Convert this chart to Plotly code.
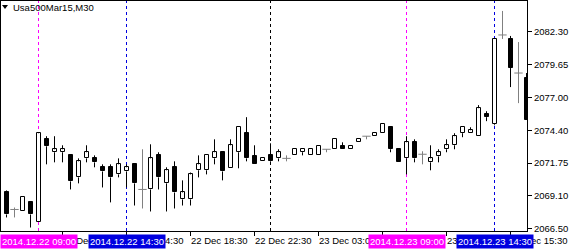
import plotly.graph_objects as go

# ---- data ----
open_ = [
    2069.40, 2068.03, 2067.87, 2068.60, 2067.06, 2073.67, 2072.63, 2072.63, 2072.38, 2070.61,
    2072.14, 2072.14, 2071.42, 2071.42, 2070.85, 2071.09, 2071.66, 2069.64, 2069.64, 2072.38,
    2070.13, 2071.42, 2068.84, 2068.84, 2071.18, 2071.18, 2072.14, 2072.63, 2071.34, 2072.63,
    2074.16, 2072.30, 2071.90, 2072.38, 2072.14, 2072.14, 2072.38, 2072.63, 2072.38, 2072.38,
    2072.87, 2072.87, 2073.11, 2072.87, 2073.43, 2073.92, 2073.92, 2074.16, 2074.64, 2072.87,
    2072.14, 2073.43, 2072.47, 2071.82, 2072.30, 2072.87, 2073.19, 2074.16, 2074.16, 2073.92,
    2075.69, 2074.88, 2082.06, 2081.74, 2079.00, 2078.59]
high = [
    2069.56, 2068.19, 2069.00, 2068.60, 2074.24, 2073.92, 2073.92, 2073.19, 2072.38, 2072.14,
    2073.19, 2072.38, 2071.66, 2071.66, 2072.14, 2071.66, 2071.66, 2072.87, 2073.27, 2072.63,
    2071.42, 2071.90, 2070.37, 2071.00, 2072.38, 2072.38, 2073.67, 2072.63, 2073.67, 2074.64,
    2075.45, 2073.19, 2072.14, 2073.35, 2072.87, 2072.38, 2072.87, 2072.87, 2072.87, 2073.11,
    2072.87, 2073.67, 2073.43, 2073.11, 2073.67, 2073.92, 2074.16, 2074.88, 2074.64, 2072.87,
    2073.92, 2073.67, 2072.71, 2073.19, 2072.87, 2073.67, 2074.16, 2074.64, 2074.64, 2076.42,
    2075.93, 2081.74, 2083.99, 2081.98, 2081.49, 2079.00]
low = [
    2067.39, 2067.39, 2067.87, 2066.58, 2067.06, 2071.66, 2071.82, 2071.82, 2069.64, 2070.13,
    2071.82, 2071.42, 2069.80, 2068.60, 2070.61, 2069.80, 2068.35, 2068.11, 2067.87, 2069.64,
    2067.87, 2068.11, 2068.35, 2068.35, 2070.61, 2070.85, 2071.66, 2070.37, 2071.34, 2071.34,
    2071.90, 2071.66, 2071.90, 2071.66, 2071.90, 2071.90, 2072.38, 2072.38, 2072.38, 2072.38,
    2072.63, 2072.87, 2072.87, 2072.87, 2073.43, 2073.67, 2073.92, 2074.16, 2072.63, 2071.82,
    2070.85, 2071.82, 2071.66, 2071.18, 2071.82, 2072.63, 2072.87, 2073.84, 2074.16, 2073.92,
    2075.13, 2074.80, 2081.74, 2077.87, 2076.58, 2075.21]
close = [
    2067.63, 2068.03, 2069.00, 2067.63, 2074.16, 2073.11, 2072.87, 2072.87, 2070.29, 2071.90,
    2072.63, 2071.82, 2071.09, 2070.61, 2071.66, 2071.42, 2070.13, 2069.64, 2072.14, 2070.61,
    2071.18, 2069.40, 2069.40, 2070.85, 2071.66, 2072.38, 2072.63, 2071.09, 2073.19, 2074.64,
    2072.14, 2071.66, 2072.14, 2071.90, 2072.63, 2072.14, 2072.87, 2072.87, 2072.87, 2073.11,
    2072.87, 2073.67, 2072.87, 2073.11, 2073.67, 2073.92, 2074.16, 2074.88, 2072.87, 2071.82,
    2073.43, 2072.14, 2072.47, 2072.14, 2072.63, 2073.19, 2073.92, 2074.64, 2074.40, 2076.17,
    2075.45, 2081.74, 2082.06, 2079.40, 2079.00, 2075.21]

time_label_idx = [7, 15, 23, 31, 39, 47, 55, 63]
time_labels = ["22 Dec 10:30", "22 Dec 14:30", "22 Dec 18:30", "22 Dec 22:30",
               "23 Dec 03:00", "23 Dec 07:00", "23 Dec 11:00", "23 Dec 15:30"]

marker_idx = [4, 15, 50, 61]
marker_labels = ["2014.12.22 09:00", "2014.12.22 14:30", "2014.12.23 09:00", "2014.12.23 14:30"]
separator_idx = [33]

price_ticks = [2082.30, 2079.667, 2077.033, 2074.40, 2071.767, 2069.133, 2066.50]
price_tick_text = ["2082.30", "2079.65", "2077.00", "2074.40", "2071.75", "2069.10", "2066.50"]

symbol_title = "Usa500Mar15,M30"

# ---- build ----
FONT = "Liberation Sans"
MAGENTA = "#FF00FF"
BLUE = "#0000E0"
GRAY = "#808080"

n = len(open_)
xs = list(range(n))

bull_x, bull_b, bull_h = [], [], []
bear_x, bear_b, bear_h = [], [], []
wx, wy = [], []
dx, dy, dwx, dwy = [], [], [], []
for i in xs:
    o, h, l, c = open_[i], high[i], low[i], close[i]
    if o == c:
        dx.append(i); dy.append(o)
        dwx += [i, i, None]; dwy += [l, h, None]
        continue
    top, bot = max(o, c), min(o, c)
    if c > o:
        bull_x.append(i); bull_b.append(o); bull_h.append(c - o)
    else:
        bear_x.append(i); bear_b.append(c); bear_h.append(o - c)
    if h > top:
        wx += [i, i, None]; wy += [top, h, None]
    if l < bot:
        wx += [i, i, None]; wy += [l, bot, None]

fig = go.Figure()
fig.add_trace(go.Scatter(x=wx, y=wy, mode="lines", line=dict(color="black", width=1),
                         hoverinfo="skip", showlegend=False))
fig.add_trace(go.Scatter(x=dwx, y=dwy, mode="lines", line=dict(color=GRAY, width=1),
                         hoverinfo="skip", showlegend=False))
fig.add_trace(go.Bar(x=bull_x, y=bull_h, base=bull_b, width=0.5,
                     marker=dict(color="white", line=dict(color="black", width=1)),
                     showlegend=False))
fig.add_trace(go.Bar(x=bear_x, y=bear_h, base=bear_b, width=0.5,
                     marker=dict(color="black", line=dict(color="black", width=1)),
                     showlegend=False))
fig.add_trace(go.Scatter(x=dx, y=dy, mode="markers",
                         marker=dict(symbol="line-ew", size=6, line=dict(color=GRAY, width=1)),
                         hoverinfo="skip", showlegend=False))

shapes = []
for k, i in enumerate(marker_idx):
    col = MAGENTA if k % 2 == 0 else BLUE
    shapes.append(dict(type="line", xref="x", yref="paper", x0=i, x1=i, y0=0, y1=1,
                       layer="below",
                       line=dict(color=col, width=1, dash="3px,3px")))
for i in separator_idx:
    shapes.append(dict(type="line", xref="x", yref="paper", x0=i, x1=i, y0=0, y1=1,
                       layer="below",
                       line=dict(color="black", width=1, dash="3px,3px")))
# small menu triangle at top-left
shapes.append(dict(type="path", xref="paper", yref="paper",
                   path="M 0.0019 0.9826 L 0.0133 0.9826 L 0.0076 0.9652 Z",
                   fillcolor="black", line=dict(color="black", width=0)))

annotations = []
for i, t in zip(time_label_idx, time_labels):
    annotations.append(dict(x=i, y=0, xref="x", yref="paper", text=t, showarrow=False,
                            xanchor="left", yanchor="top", xshift=-2, yshift=-2,
                            font=dict(family=FONT, size=9.5, color="black")))
for k, (i, t) in enumerate(zip(marker_idx, marker_labels)):
    col = MAGENTA if k % 2 == 0 else BLUE
    annotations.append(dict(x=i, y=0, xref="x", yref="paper", text=t, showarrow=False,
                            xanchor="center", yanchor="top", yshift=-3,
                            bgcolor=col, borderpad=1,
                            font=dict(family=FONT, size=9.5, color="white")))
annotations.append(dict(x=0, y=1, xref="paper", yref="paper", text=symbol_title,
                        showarrow=False, xanchor="left", yanchor="top", xshift=10, yshift=1,
                        font=dict(family=FONT, size=9.5, color="black")))

fig.update_layout(
    width=571, height=251,
    margin=dict(l=1, r=44, t=1, b=20, pad=0),
    paper_bgcolor="white", plot_bgcolor="white",
    barmode="overlay", bargap=0,
    shapes=shapes, annotations=annotations,
    showlegend=False,
    xaxis=dict(range=[-0.6875, 65.0625], showgrid=False, zeroline=False,
               showline=True, mirror=True, linecolor="black", linewidth=1,
               tickmode="array", tickvals=time_label_idx, ticks="outside",
               ticklen=4, tickcolor="black", showticklabels=False, fixedrange=True),
    yaxis=dict(range=[2066.30, 2084.79], side="right", showgrid=False, zeroline=False,
               showline=True, mirror=True, linecolor="black", linewidth=1,
               tickmode="array", tickvals=price_ticks, ticktext=price_tick_text,
               ticks="outside", ticklen=4, tickcolor="black",
               tickfont=dict(family=FONT, size=9.5, color="black"), fixedrange=True),
)

fig.write_html("out.html", config={"displayModeBar": False})
